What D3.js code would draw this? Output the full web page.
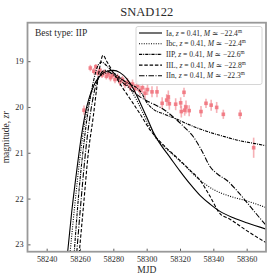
<!DOCTYPE html>
<html><head><meta charset="utf-8">
<script src="https://cdn.jsdelivr.net/npm/d3@7"></script>
<style>
html,body{margin:0;padding:0;background:#fff;}
svg text{font-family:"Liberation Serif","DejaVu Serif",serif;fill:#2a2a2a;}
</style></head>
<body><svg id="c" width="280" height="280"></svg>
<script>
// observations
const obsMjd = [58262.4,58266.2,58268.3,58269.5,58270.8,58272.0,58273.2,58274.5,58275.8,58277.0,58278.3,58279.5,58281.0,58282.5,58284.0,58285.5,58287.0,58288.5,58290.0,58291.5,58293.0,58294.5,58296.0,58297.5,58299.0,58300.5,58303.2,58306.2,58309.3,58312.0,58313.0,58313.6,58317.4,58320.4,58320.8,58322.4,58322.8,58323.6,58325.5,58332.6,58335.6,58338.7,58342.0,58346.0,58356.1,58364.2];
const obsMag = [20.07,19.15,19.22,19.12,19.26,19.20,19.30,19.24,19.33,19.28,19.36,19.31,19.40,19.35,19.45,19.40,19.50,19.46,19.55,19.50,19.60,19.54,19.64,19.58,19.70,19.62,19.67,19.67,19.92,19.85,19.78,19.93,19.94,19.91,20.10,19.68,20.07,20.00,20.08,20.10,19.92,19.96,20.01,20.16,20.16,20.89];
const obsErr = [0.10,0.07,0.07,0.06,0.07,0.06,0.07,0.06,0.07,0.07,0.08,0.07,0.08,0.08,0.09,0.08,0.09,0.09,0.10,0.10,0.10,0.11,0.11,0.11,0.12,0.12,0.12,0.12,0.13,0.13,0.14,0.13,0.13,0.12,0.13,0.10,0.12,0.14,0.12,0.12,0.10,0.12,0.12,0.10,0.10,0.22];

// model curves [mjd, mag]
const modelIa = [[58252.5,23.2],[58255,22.3],[58258,21.4],[58261,20.6],[58264,20.0],[58268,19.55],[58272,19.32],[58276,19.22],[58280,19.2],[58284,19.25],[58288,19.38],[58292,19.6],[58296,19.9],[58300,20.22],[58304,20.55],[58308,20.8],[58314,21.1],[58320,21.4],[58326,21.68],[58332,21.93],[58338,22.12],[58344,22.28],[58352,22.42],[58360,22.53],[58372,22.67]];
const modelIbc = [[58254,23.2],[58257,22.1],[58260,21.1],[58263,20.3],[58266,19.8],[58270,19.42],[58274,19.28],[58278,19.25],[58282,19.3],[58286,19.42],[58290,19.6],[58294,19.85],[58298,20.15],[58302,20.45],[58306,20.7],[58310,20.85],[58316,21.05],[58322,21.25],[58332,21.6],[58340,21.8],[58350,21.95],[58358,22.03],[58372,22.2]];
const modelIIP = [[58256.5,23.2],[58259,22.0],[58262,20.9],[58265,20.05],[58268,19.45],[58271,19.08],[58273,19.02],[58276,19.1],[58280,19.25],[58285,19.4],[58290,19.5],[58294,19.58],[58297,19.7],[58300,19.9],[58304,20.05],[58310,20.15],[58317,20.25],[58325,20.38],[58335,20.52],[58345,20.63],[58355,20.73],[58365,20.8],[58372,20.85]];
const modelIIL = [[58259.5,23.2],[58262,22.2],[58265,21.0],[58268,20.2],[58270,19.6],[58272,19.1],[58273.8,18.87],[58276,19.0],[58280,19.25],[58285,19.55],[58290,19.82],[58296,20.15],[58302,20.5],[58310,20.83],[58318,21.1],[58326,21.38],[58332,21.6],[58338,21.95],[58344,22.33],[58350,22.45],[58360,22.7],[58372,22.97]];
const modelIIn = [[58258,23.2],[58260.5,22.1],[58263,21.1],[58266,20.2],[58269,19.6],[58272,19.3],[58275,19.2],[58280,19.3],[58285,19.45],[58290,19.6],[58296,19.78],[58302,19.9],[58310,20.05],[58317,20.25],[58322,20.42],[58328,20.65],[58333,20.95],[58338,21.3],[58343,21.48],[58348,21.6],[58353,21.78],[58358,21.99],[58365,22.3],[58372,22.6]];

const legendLabels = ["Ia","Ibc","IIP","IIL","IIn"];
const legendM = ["22.4","22.4","22.6","22.8","22.3"];
const legendZ = "0.41";
const xTicks = [58240,58260,58280,58300,58320,58340,58360];
const yTicks = [19,20,21,22,23];

const svg = d3.select("#c");
const L=27.5,R=266,T=22.7,B=251.7;
const x = d3.scaleLinear().domain([58228.5,58371.6]).range([L,R]);
const y = d3.scaleLinear().domain([18.16,23.16]).range([T,B]);

svg.append("defs").append("clipPath").attr("id","clip").append("rect")
  .attr("x",L).attr("y",T).attr("width",R-L).attr("height",B-T);

const plot = svg.append("g").attr("clip-path","url(#clip)");

// observations
const red="#f0707a";
const obs = obsMjd.map((m,i)=>({m, v:obsMag[i], e:obsErr[i]}));
plot.selectAll("line.err").data(obs).enter().append("line")
  .attr("x1",d=>x(d.m)).attr("x2",d=>x(d.m))
  .attr("y1",d=>y(d.v-d.e)).attr("y2",d=>y(d.v+d.e))
  .attr("stroke",red).attr("stroke-width",1.6).attr("opacity",0.55);
plot.selectAll("rect.pt").data(obs).enter().append("rect")
  .attr("x",d=>x(d.m)-1.8).attr("y",d=>y(d.v)-1.8).attr("width",3.6).attr("height",3.6)
  .attr("fill",red).attr("opacity",0.85);

// models
const models=[modelIa,modelIbc,modelIIP,modelIIL,modelIIn];
const dashes=[null,"1,1.4","3.2,1,1,1","3.5,1.8","5.5,1.5,1,1.5"];
const line=d3.line().x(d=>x(d[0])).y(d=>y(d[1])).curve(d3.curveMonotoneX);
models.forEach((md,i)=>{
  plot.append("path").attr("d",line(md)).attr("fill","none")
    .attr("stroke","#000").attr("stroke-width",1.1)
    .attr("stroke-dasharray",dashes[i]);
});

// axes
const xAxis = d3.axisBottom(x).tickValues(xTicks).tickFormat(d3.format("d")).tickSizeInner(-3).tickSizeOuter(0).tickPadding(4);
const yAxis = d3.axisLeft(y).tickValues(yTicks).tickFormat(d3.format("d")).tickSizeInner(-3).tickSizeOuter(0).tickPadding(4);
const gx=svg.append("g").attr("transform",`translate(0,${B})`).call(xAxis);
const gy=svg.append("g").attr("transform",`translate(${L},0)`).call(yAxis);
[gx,gy].forEach(g=>{
  g.select(".domain").remove();
  g.selectAll(".tick line").attr("stroke","#333").attr("stroke-width",0.8);
  g.selectAll(".tick text").attr("font-size",8.2).attr("fill","#2a2a2a").style("font-family","Liberation Serif, serif");
});
svg.append("rect").attr("x",L).attr("y",T).attr("width",R-L).attr("height",B-T)
  .attr("fill","none").attr("stroke","#999").attr("stroke-width",1.8);

// labels
svg.append("text").attr("x",(L+R)/2).attr("y",15.5).attr("text-anchor","middle").attr("font-size",12.5).text("SNAD122");
svg.append("text").attr("x",(L+R)/2).attr("y",273).attr("text-anchor","middle").attr("font-size",9.5).text("MJD");
const yl=svg.append("text").attr("transform",`translate(9,${(T+B)/2}) rotate(-90)`).attr("text-anchor","middle").attr("font-size",9.5);
yl.append("tspan").text("magnitude, ");
yl.append("tspan").attr("font-style","italic").text("zr");

svg.append("text").attr("x",35).attr("y",36).attr("font-size",9.5).text("Best type: IIP");

// legend
const lg=svg.append("g");
lg.append("rect").attr("x",136).attr("y",26.5).attr("width",126).attr("height",58).attr("rx",2)
  .attr("fill","#fff").attr("fill-opacity",0.85).attr("stroke","#ccc").attr("stroke-width",0.8);
legendLabels.forEach((lab,i)=>{
  const yy=33+i*10.7;
  lg.append("line").attr("x1",139).attr("x2",162).attr("y1",yy).attr("y2",yy)
    .attr("stroke","#000").attr("stroke-width",1.1).attr("stroke-dasharray",dashes[i]);
  const t=lg.append("text").attr("x",166).attr("y",yy+2.6).attr("font-size",7.6);
  t.append("tspan").text(lab+", ");
  t.append("tspan").attr("font-style","italic").text("z");
  t.append("tspan").text(" = "+legendZ+", ");
  t.append("tspan").attr("font-style","italic").text("M");
  t.append("tspan").text(" \u2243 \u2212"+legendM[i]);
  t.append("tspan").attr("font-size",5.2).attr("dy",-3).text("m");
});
</script></body></html>
